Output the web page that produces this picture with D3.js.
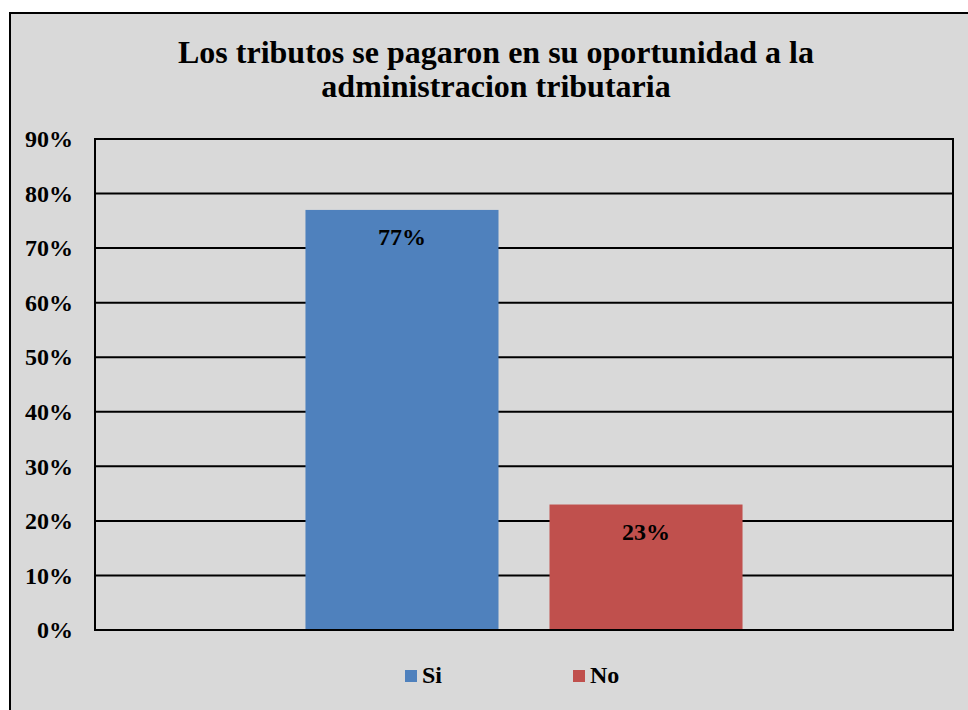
<!DOCTYPE html>
<html>
<head>
<meta charset="utf-8">
<script src="https://cdn.jsdelivr.net/npm/d3@7"></script>
<style>
  body { margin: 0; background: #fff; }
  svg text { font-family: "Liberation Serif", "Times New Roman", serif; font-weight: bold; fill: #000; }
</style>
</head>
<body>
<div id="chart"></div>
<script>
// data
const categories = ["Si", "No"];
const values = [0.77, 0.23];
const colors = ["#4f81bd", "#c0504d"];
const tickValues = [0, 0.1, 0.2, 0.3, 0.4, 0.5, 0.6, 0.7, 0.8, 0.9];
const titleLines = ["Los tributos se pagaron en su oportunidad a la", "administracion tributaria"];

const W = 968, H = 710;
const plot = { left: 95, right: 953, top: 139, bottom: 630 };

const svg = d3.select("#chart").append("svg")
    .attr("width", W)
    .attr("height", H);

// chart area box (runs off right/bottom edge like the original)
svg.append("rect")
    .attr("x", 10).attr("y", 13)
    .attr("width", W + 20).attr("height", H + 20)
    .attr("fill", "#d9d9d9")
    .attr("stroke", "#000")
    .attr("stroke-width", 2);

// title
svg.append("text")
    .attr("text-anchor", "middle")
    .style("font-size", "32px")
    .selectAll("tspan")
    .data(titleLines)
    .join("tspan")
    .attr("x", 496)
    .attr("y", (d, i) => 63 + i * 34)
    .text(d => d);

const y = d3.scaleLinear().domain([0, 0.9]).range([plot.bottom, plot.top]);
const x = d3.scaleBand()
    .domain(categories)
    .range([plot.left, plot.right])
    .paddingInner(0.209)
    .paddingOuter(0.8625);

// gridlines
svg.append("g")
    .selectAll("line")
    .data(tickValues)
    .join("line")
    .attr("x1", plot.left).attr("x2", plot.right)
    .attr("y1", d => y(d)).attr("y2", d => y(d))
    .attr("stroke", "#000")
    .attr("stroke-width", 2);

// y axis labels
const yAxis = svg.append("g")
    .attr("transform", `translate(${plot.left},0)`)
    .call(d3.axisLeft(y).tickValues(tickValues).tickFormat(d3.format(".0%")).tickSize(0).tickPadding(22));
yAxis.select(".domain").remove();
yAxis.selectAll("text")
    .style("font-size", "24px")
    .style("font-family", "'Liberation Serif', 'Times New Roman', serif")
    .attr("fill", "#000");

// bars
svg.append("g")
    .selectAll("rect")
    .data(categories)
    .join("rect")
    .attr("x", d => x(d))
    .attr("width", x.bandwidth())
    .attr("y", (d, i) => y(values[i]))
    .attr("height", (d, i) => y(0) - y(values[i]))
    .attr("fill", (d, i) => colors[i]);

// plot border
svg.append("rect")
    .attr("x", plot.left).attr("y", plot.top)
    .attr("width", plot.right - plot.left)
    .attr("height", plot.bottom - plot.top)
    .attr("fill", "none")
    .attr("stroke", "#000")
    .attr("stroke-width", 2);

// data labels
svg.append("g")
    .selectAll("text")
    .data(categories)
    .join("text")
    .attr("text-anchor", "middle")
    .attr("x", d => x(d) + x.bandwidth() / 2)
    .attr("y", (d, i) => y(values[i]) + 35)
    .style("font-size", "24px")
    .text((d, i) => d3.format(".0%")(values[i]));

// legend
const legendX = [405, 573];
const legend = svg.append("g")
    .selectAll("g")
    .data(categories)
    .join("g")
    .attr("transform", (d, i) => `translate(${legendX[i]},670)`);
legend.append("rect")
    .attr("width", 12).attr("height", 12)
    .attr("fill", (d, i) => colors[i]);
legend.append("text")
    .attr("x", 17).attr("y", 13)
    .style("font-size", "24px")
    .text(d => d);
</script>
</body>
</html>
